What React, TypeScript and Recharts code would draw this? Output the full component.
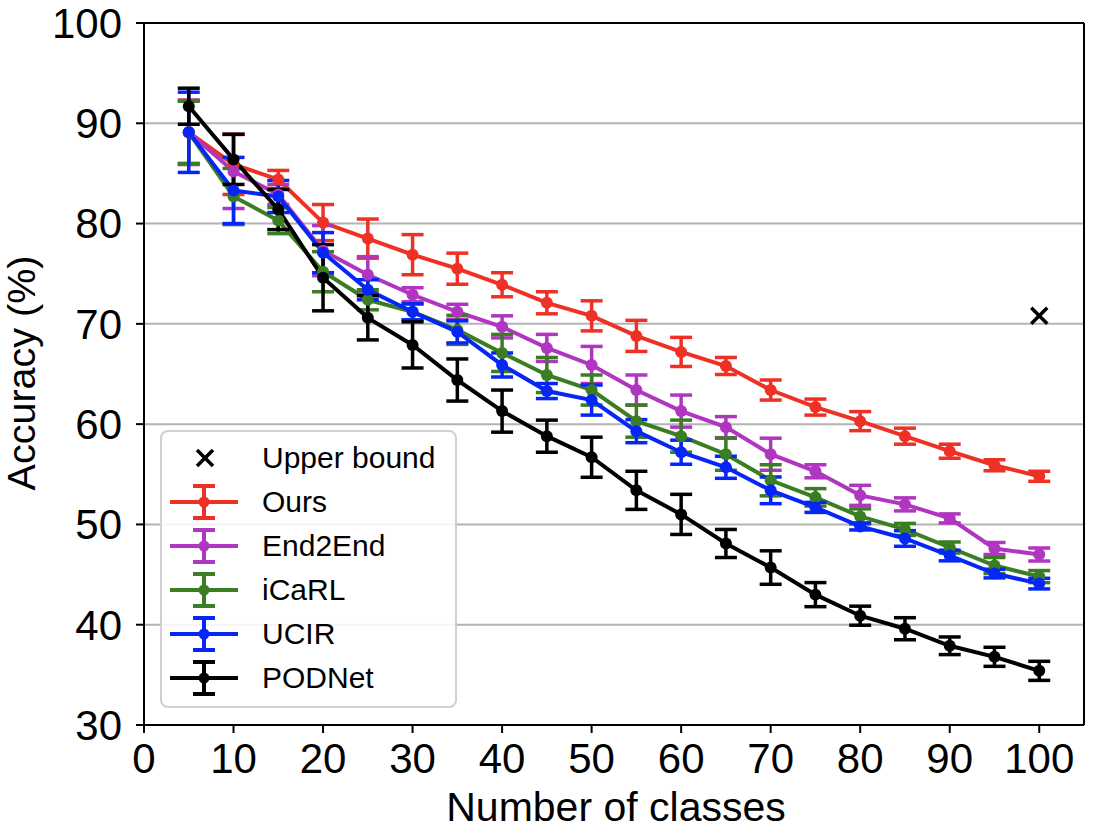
import React from 'react';
import {
  ComposedChart,
  Line,
  Scatter,
  XAxis,
  YAxis,
  CartesianGrid,
  ErrorBar,
  ReferenceLine,
  Legend,
} from 'recharts';

const FONT = '"Liberation Sans", Arial, Helvetica, sans-serif';

// x: number of classes seen so far
const classes = [5, 10, 15, 20, 25, 30, 35, 40, 45, 50, 55, 60, 65, 70, 75, 80, 85, 90, 95, 100];

const oursAcc = [89.1, 85.9, 84.4, 80.1, 78.5, 76.9, 75.5, 73.9, 72.1, 70.8, 68.8, 67.2, 65.8, 63.4, 61.7, 60.3, 58.8, 57.3, 55.9, 54.8];
const oursErr = [3.2, 3.0, 0.9, 1.8, 1.95, 2.0, 1.55, 1.2, 1.1, 1.5, 1.55, 1.45, 0.85, 1.0, 0.8, 0.95, 0.8, 0.7, 0.55, 0.5];

const end2endAcc = [89.1, 85.2, 82.9, 77.3, 74.9, 72.9, 71.2, 69.7, 67.6, 65.9, 63.4, 61.3, 59.7, 57.0, 55.3, 52.9, 52.0, 50.6, 47.6, 47.0];
const end2endErr = [3.2, 3.7, 1.0, 2.5, 1.8, 0.7, 0.75, 1.1, 1.35, 1.85, 1.5, 1.6, 1.05, 1.6, 0.65, 1.0, 0.65, 0.45, 0.6, 0.65];

const icarlAcc = [89.1, 82.7, 80.3, 75.2, 72.4, 71.2, 69.4, 67.1, 64.9, 63.4, 60.3, 58.8, 57.0, 54.4, 52.7, 50.8, 49.5, 47.7, 45.9, 44.8];
const icarlErr = [3.1, 2.8, 1.3, 2.0, 1.0, 0.8, 1.45, 1.85, 1.75, 1.5, 1.6, 1.6, 1.6, 1.55, 0.87, 0.75, 0.6, 0.55, 0.8, 0.6];

const ucirAcc = [89.1, 83.3, 82.7, 77.1, 73.4, 71.2, 69.2, 65.9, 63.3, 62.4, 59.3, 57.2, 55.7, 53.4, 51.7, 49.8, 48.6, 46.9, 45.1, 44.1];
const ucirErr = [4.0, 3.3, 1.6, 2.0, 1.0, 0.8, 1.1, 1.2, 0.75, 1.5, 1.15, 1.2, 1.1, 1.33, 0.5, 0.35, 0.78, 0.53, 0.43, 0.53];

const podnetAcc = [91.7, 86.4, 81.4, 74.6, 70.6, 67.9, 64.4, 61.3, 58.8, 56.7, 53.4, 51.0, 48.1, 45.7, 43.0, 40.9, 39.6, 37.9, 36.8, 35.4];
const podnetErr = [1.8, 2.5, 2.0, 3.3, 2.2, 2.3, 2.1, 2.1, 1.6, 2.0, 1.9, 2.0, 1.4, 1.67, 1.2, 0.95, 1.1, 0.88, 0.95, 0.95];

const upperBound = [{ classes: 100, upper: 70.8 }];

const xTicks = [0, 10, 20, 30, 40, 50, 60, 70, 80, 90, 100];
const yTicks = [30, 40, 50, 60, 70, 80, 90, 100];

const series = [
  { key: 'ours', name: 'Ours', color: '#ee3124', acc: oursAcc, err: oursErr },
  { key: 'end2end', name: 'End2End', color: '#b035c0', acc: end2endAcc, err: end2endErr },
  { key: 'icarl', name: 'iCaRL', color: '#3b7d22', acc: icarlAcc, err: icarlErr },
  { key: 'ucir', name: 'UCIR', color: '#0626f8', acc: ucirAcc, err: ucirErr },
  { key: 'podnet', name: 'PODNet', color: '#000000', acc: podnetAcc, err: podnetErr },
];

const data = classes.map((c, i) => {
  const row: Record<string, number> = { classes: c };
  series.forEach((s) => {
    row[s.key] = s.acc[i];
    row[s.key + 'Err'] = s.err[i];
  });
  return row;
});

function Cross(props: any) {
  const { cx, cy } = props;
  const s = 8;
  return (
    <g stroke="#000" strokeWidth={3.5}>
      <line x1={cx - s} y1={cy - s} x2={cx + s} y2={cy + s} />
      <line x1={cx - s} y1={cy + s} x2={cx + s} y2={cy - s} />
    </g>
  );
}

const yLabel = () => (
  <text
    x={35}
    y={373}
    transform="rotate(-90 35 373)"
    textAnchor="middle"
    fontSize={39.5}
    fontFamily={FONT}
    fill="#000"
  >
    Accuracy (%)
  </text>
);

const xLabel = () => (
  <text x={616} y={821} textAnchor="middle" fontSize={41} fontFamily={FONT} fill="#000">
    Number of classes
  </text>
);

function LegendBox() {
  const rowH = 44;
  return (
    <div
      style={{
        boxSizing: 'border-box',
        width: 297,
        height: 278,
        border: '2px solid #d0d0d0',
        borderRadius: 8,
        background: 'rgba(255,255,255,0.85)',
        paddingTop: 4,
        fontFamily: FONT,
        fontSize: 30,
        color: '#000',
      }}
    >
      <div style={{ display: 'flex', alignItems: 'center', height: rowH }}>
        <svg width={100} height={rowH} style={{ display: 'block' }}>
          <g stroke="#000" strokeWidth={3.5}>
            <line x1={35} y1={rowH / 2 - 8} x2={51} y2={rowH / 2 + 8} />
            <line x1={35} y1={rowH / 2 + 8} x2={51} y2={rowH / 2 - 8} />
          </g>
        </svg>
        <span>Upper bound</span>
      </div>
      {series.map((s) => (
        <div key={s.key} style={{ display: 'flex', alignItems: 'center', height: rowH }}>
          <svg width={100} height={rowH} style={{ display: 'block' }}>
            <g stroke={s.color} strokeWidth={4}>
              <line x1={8} y1={rowH / 2} x2={76} y2={rowH / 2} />
              <line x1={42} y1={rowH / 2 - 16} x2={42} y2={rowH / 2 + 16} />
              <line x1={31} y1={rowH / 2 - 16} x2={53} y2={rowH / 2 - 16} />
              <line x1={31} y1={rowH / 2 + 16} x2={53} y2={rowH / 2 + 16} />
            </g>
            <circle cx={42} cy={rowH / 2} r={5.5} fill={s.color} />
          </svg>
          <span>{s.name}</span>
        </div>
      ))}
    </div>
  );
}

export default function App() {
  return (
    <div style={{ position: 'absolute', left: 0, top: 0, width: 1094, height: 834, background: '#fff' }}>
      <ComposedChart
        width={1094}
        height={834}
        data={data}
        margin={{ top: 23, right: 10, bottom: 0, left: 0 }}
      >
        <CartesianGrid vertical={false} stroke="#b3b3b3" strokeWidth={2} />
        <XAxis
          dataKey="classes"
          type="number"
          domain={[0, 105]}
          ticks={xTicks}
          interval={0}
          height={109}
          tickSize={8}
          tickMargin={10}
          axisLine={{ stroke: '#000', strokeWidth: 2 }}
          tickLine={{ stroke: '#000', strokeWidth: 2 }}
          tick={{ fontSize: 42, fill: '#000', fontFamily: FONT }}
          label={xLabel}
        />
        <YAxis
          type="number"
          domain={[30, 100]}
          ticks={yTicks}
          interval={0}
          width={144}
          tickSize={8}
          tickMargin={14}
          allowDataOverflow
          axisLine={{ stroke: '#000', strokeWidth: 2 }}
          tickLine={{ stroke: '#000', strokeWidth: 2 }}
          tick={{ fontSize: 42, fill: '#000', fontFamily: FONT }}
          label={yLabel}
        />
        <ReferenceLine y={100} stroke="#000" strokeWidth={2} />
        <ReferenceLine x={105} stroke="#000" strokeWidth={2} />
        {series.map((s) => (
          <Line
            key={s.key}
            dataKey={s.key}
            name={s.name}
            stroke={s.color}
            strokeWidth={4}
            dot={{ r: 6, fill: s.color, stroke: s.color, strokeWidth: 0 }}
            activeDot={false}
            isAnimationActive={false}
          >
            <ErrorBar
              dataKey={s.key + 'Err'}
              direction="y"
              width={11}
              stroke={s.color}
              strokeWidth={3.5}
              isAnimationActive={false}
            />
          </Line>
        ))}
        <Scatter
          data={upperBound}
          dataKey="upper"
          name="Upper bound"
          shape={Cross}
          isAnimationActive={false}
        />
        <Legend
          layout="horizontal"
          verticalAlign="middle"
          align="center"
          content={() => <LegendBox />}
          wrapperStyle={{ left: 160, top: 430, width: 297, height: 278 }}
        />
      </ComposedChart>
    </div>
  );
}
